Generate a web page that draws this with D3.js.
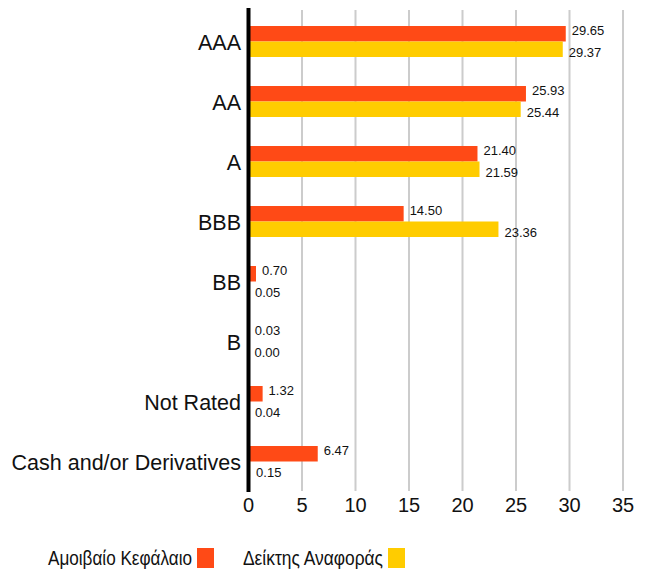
<!DOCTYPE html>
<meta charset="utf-8">
<style>
body { margin: 0; background: #fff; font-family: "Liberation Sans", Arial, sans-serif; }
.grid line { stroke: #cccccc; stroke-width: 2; }
.tick text { font-size: 20px; fill: #111; }
.cat { font-size: 21.5px; fill: #111; }
.val { font-size: 13px; fill: #111; }
.legend text { font-size: 21px; fill: #111; }
</style>
<svg width="651" height="574"></svg>
<script src="https://cdn.jsdelivr.net/npm/d3@7"></script>
<script>

var categories = ["AAA", "AA", "A", "BBB", "BB", "B", "Not Rated", "Cash and/or Derivatives"];
var fundValues = [29.65, 25.93, 21.40, 14.50, 0.70, 0.03, 1.32, 6.47];
var benchValues = [29.37, 25.44, 21.59, 23.36, 0.05, 0.00, 0.04, 0.15];
var seriesNames = ["Αμοιβαίο Κεφάλαιο", "Δείκτης Αναφοράς"];
var xTicks = [0, 5, 10, 15, 20, 25, 30, 35];

var colors = ["#ff4a16", "#ffcc00"];

var svg = d3.select("svg");

var x = d3.scaleLinear().domain([0, 35]).range([248.5, 623]);
var y = d3.scaleBand().domain(categories).range([11, 491]);
var inner = d3.scaleBand().domain([0, 1]).range([15, 46]);

// grid lines
svg.append("g").attr("class", "grid")
  .selectAll("line")
  .data(xTicks.slice(1))
  .enter().append("line")
    .attr("x1", function(d) { return x(d); })
    .attr("x2", function(d) { return x(d); })
    .attr("y1", 10)
    .attr("y2", 491);

// x tick labels
svg.append("g").attr("class", "tick")
  .selectAll("text")
  .data(xTicks)
  .enter().append("text")
    .attr("x", function(d) { return x(d); })
    .attr("y", 512)
    .attr("text-anchor", "middle")
    .text(function(d) { return d; });

var rows = categories.map(function(c, i) {
  return { cat: c, vals: [fundValues[i], benchValues[i]] };
});

var row = svg.selectAll(".row")
  .data(rows)
  .enter().append("g")
    .attr("class", "row")
    .attr("transform", function(d) { return "translate(0," + y(d.cat) + ")"; });

row.selectAll("rect")
  .data(function(d) { return d.vals; })
  .enter().append("rect")
    .attr("x", x(0))
    .attr("y", function(d, i) { return inner(i); })
    .attr("height", inner.bandwidth())
    .attr("width", function(d) { return x(d) - x(0); })
    .attr("fill", function(d, i) { return colors[i]; });

row.selectAll(".val")
  .data(function(d) { return d.vals; })
  .enter().append("text")
    .attr("class", "val")
    .attr("x", function(d) { return x(d) + 6; })
    .attr("y", function(d, i) { return i == 0 ? 24 : 46; })
    .text(function(d) { return d.toFixed(2); });

row.append("text")
  .attr("class", "cat")
  .attr("x", 241)
  .attr("y", 39)
  .attr("text-anchor", "end")
  .text(function(d) { return d.cat; });

// y axis line
svg.append("line")
  .attr("x1", 248.5).attr("x2", 248.5)
  .attr("y1", 8).attr("y2", 492)
  .attr("stroke", "#000")
  .attr("stroke-width", 4);

// legend
var legend = svg.append("g").attr("class", "legend");
var legendX = [[48, 197, 144], [243, 388, 140]];
seriesNames.forEach(function(name, i) {
  legend.append("text")
    .attr("x", legendX[i][0])
    .attr("y", 565)
    .attr("textLength", legendX[i][2])
    .attr("lengthAdjust", "spacingAndGlyphs")
    .text(name);
  legend.append("rect")
    .attr("x", legendX[i][1])
    .attr("y", 548)
    .attr("width", 17)
    .attr("height", 20)
    .attr("fill", colors[i]);
});

</script>
